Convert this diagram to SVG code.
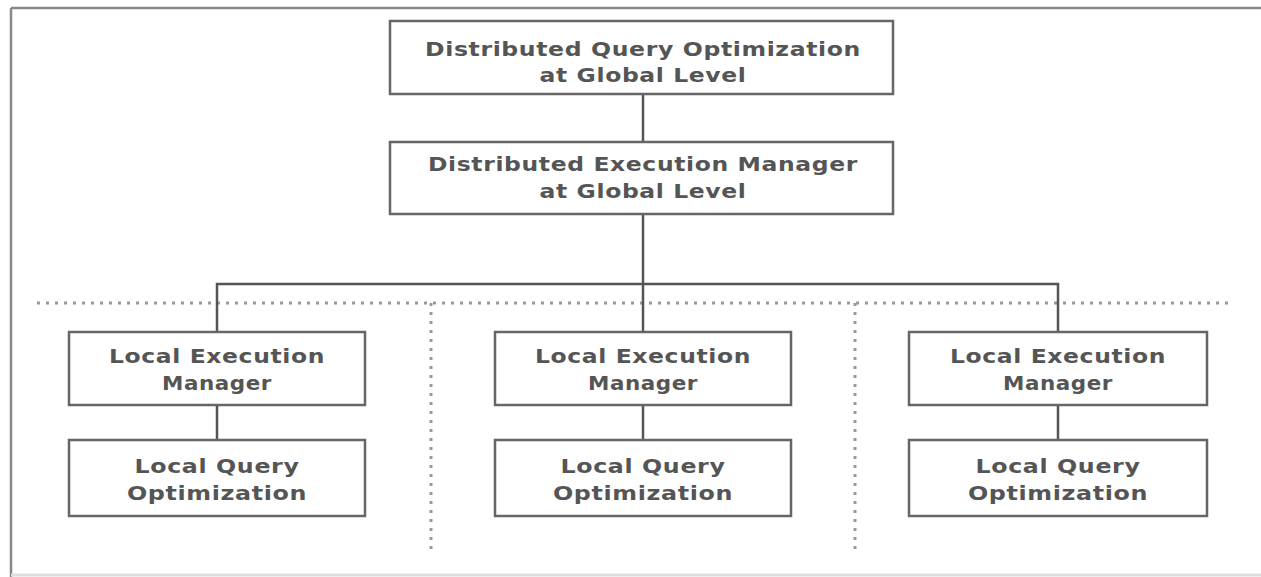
<svg xmlns="http://www.w3.org/2000/svg" width="1261" height="577" viewBox="0 0 1261 577">
<style>
.box{fill:#fff;stroke:#666;stroke-width:2.5}
.t{font-family:"DejaVu Sans",Verdana,sans-serif;font-size:19px;font-weight:bold;fill:#555;text-anchor:middle;letter-spacing:0.5px}
.c{stroke:#555;stroke-width:2.5;fill:none}
.d{stroke:#999;stroke-width:3;stroke-dasharray:3 6;fill:none}
</style>
<rect x="0" y="0" width="1261" height="577" fill="#fff"/>
<g id="frame">
<line x1="11" y1="8" x2="1261" y2="8" stroke="#888" stroke-width="2.5"/>
<line x1="11" y1="8" x2="11" y2="577" stroke="#888" stroke-width="2.5"/>
<line x1="11" y1="575" x2="1261" y2="575" stroke="#ddd" stroke-width="3"/>
</g>
<g id="separators">
<line class="d" x1="37" y1="303" x2="1232" y2="303"/>
<line class="d" x1="431" y1="303" x2="431" y2="553"/>
<line class="d" x1="855" y1="303" x2="855" y2="553"/>
</g>
<g id="connectors">
<line class="c" x1="643" y1="94" x2="643" y2="142"/>
<line class="c" x1="643" y1="214" x2="643" y2="284"/>
<polyline class="c" points="217,332 217,284 1058,284 1058,332"/>
<line class="c" x1="643" y1="284" x2="643" y2="332"/>
<line class="c" x1="217" y1="405" x2="217" y2="440"/>
<line class="c" x1="643" y1="405" x2="643" y2="440"/>
<line class="c" x1="1058" y1="405" x2="1058" y2="440"/>
</g>
<g id="global-opt">
<rect class="box" x="390" y="21" width="503" height="73"/>
<text class="t" x="643" y="56" textLength="436" lengthAdjust="spacingAndGlyphs">Distributed Query Optimization</text>
<text class="t" x="643" y="82" textLength="207" lengthAdjust="spacingAndGlyphs">at Global Level</text>
</g>
<g id="global-exec">
<rect class="box" x="390" y="142" width="503" height="72"/>
<text class="t" x="643" y="171" textLength="430" lengthAdjust="spacingAndGlyphs">Distributed Execution Manager</text>
<text class="t" x="643" y="198" textLength="207" lengthAdjust="spacingAndGlyphs">at Global Level</text>
</g>
<g id="lem1">
<rect class="box" x="69" y="332" width="296" height="73"/>
<text class="t" x="217" y="363" textLength="216" lengthAdjust="spacingAndGlyphs">Local Execution</text>
<text class="t" x="217" y="390" textLength="110" lengthAdjust="spacingAndGlyphs">Manager</text>
</g>
<g id="lqo1">
<rect class="box" x="69" y="440" width="296" height="76"/>
<text class="t" x="217" y="473" textLength="165" lengthAdjust="spacingAndGlyphs">Local Query</text>
<text class="t" x="217" y="500" textLength="180" lengthAdjust="spacingAndGlyphs">Optimization</text>
</g>
<g id="lem2">
<rect class="box" x="495" y="332" width="296" height="73"/>
<text class="t" x="643" y="363" textLength="216" lengthAdjust="spacingAndGlyphs">Local Execution</text>
<text class="t" x="643" y="390" textLength="110" lengthAdjust="spacingAndGlyphs">Manager</text>
</g>
<g id="lqo2">
<rect class="box" x="495" y="440" width="296" height="76"/>
<text class="t" x="643" y="473" textLength="165" lengthAdjust="spacingAndGlyphs">Local Query</text>
<text class="t" x="643" y="500" textLength="180" lengthAdjust="spacingAndGlyphs">Optimization</text>
</g>
<g id="lem3">
<rect class="box" x="909" y="332" width="298" height="73"/>
<text class="t" x="1058" y="363" textLength="216" lengthAdjust="spacingAndGlyphs">Local Execution</text>
<text class="t" x="1058" y="390" textLength="110" lengthAdjust="spacingAndGlyphs">Manager</text>
</g>
<g id="lqo3">
<rect class="box" x="909" y="440" width="298" height="76"/>
<text class="t" x="1058" y="473" textLength="165" lengthAdjust="spacingAndGlyphs">Local Query</text>
<text class="t" x="1058" y="500" textLength="180" lengthAdjust="spacingAndGlyphs">Optimization</text>
</g>
</svg>
